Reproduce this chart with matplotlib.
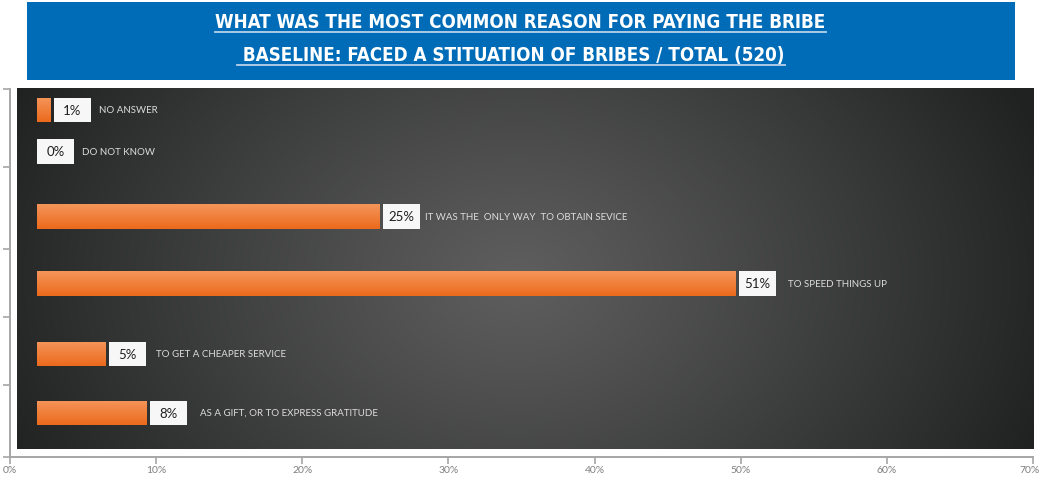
import numpy as np
import matplotlib
matplotlib.use("Agg")
import matplotlib.pyplot as plt
import matplotlib.transforms as mtransforms
from matplotlib.patches import Rectangle
from matplotlib.lines import Line2D
from matplotlib.colors import LinearSegmentedColormap

# ---- data ----
reasons = [
    "NO ANSWER",
    "DO NOT KNOW",
    "IT WAS THE  ONLY WAY  TO OBTAIN SEVICE",
    "TO SPEED THINGS UP",
    "TO GET A CHEAPER SERVICE",
    "AS A GIFT, OR TO EXPRESS GRATITUDE",
]
shares = [1, 0, 25, 51, 5, 8]
value_labels = ["1%", "0%", "25%", "51%", "5%", "8%"]
x_ticks = [0, 10, 20, 30, 40, 50, 60, 70]
x_tick_labels = ["0%", "10%", "20%", "30%", "40%", "50%", "60%", "70%"]
title_lines = [
    "WHAT WAS THE MOST COMMON REASON FOR PAYING THE BRIBE",
    " BASELINE: FACED A STITUATION OF BRIBES / TOTAL (520)",
]

# ---- layout (pixels of a 1041 x 479 canvas) ----
W, H = 1041, 479
DPI = 100
row_centers = [110, 151.5, 216.5, 283.7, 354, 413]   # vertical row positions in the panel
bar_h = 24.5
label_gap = [8, 8, 5, 12, 10, 13]
box_w = 37
box_gap = 3

fig = plt.figure(figsize=(W / DPI, H / DPI), dpi=DPI)
fig.patch.set_facecolor("white")


def fx(px):
    return px / W


def fy(py):
    return 1 - py / H


# ---- title banner ----
fig.patches.append(Rectangle((fx(27), fy(80)), fx(1015) - fx(27), fy(2) - fy(80),
                             transform=fig.transFigure, facecolor="#006cb7",
                             edgecolor="none", zorder=0))
title_font = dict(family="DejaVu Sans", fontstretch="condensed", fontweight="bold",
                  color="white", fontsize=13.5)
t1 = fig.text(fx(520.5), fy(22.5), title_lines[0], ha="center", va="center", **title_font)
t2 = fig.text(fx(511), fy(55), title_lines[1], ha="center", va="center", **title_font)

# ---- outer axis frame with ticks ----
ax_out = fig.add_axes([fx(10), fy(457), fx(1033) - fx(10), fy(89) - fy(457)])
ax_out.set_xlim(0, 70)
ax_out.set_ylim(0, 368)
ax_out.set_xticks(x_ticks)
ax_out.set_xticklabels(x_tick_labels, fontsize=7.5, color="#7f7f7f", family="Lato")
ax_out.set_yticks([0, 72, 140, 208, 290, 368])
ax_out.set_yticklabels([])
for s in ["top", "right"]:
    ax_out.spines[s].set_visible(False)
for s in ["left", "bottom"]:
    ax_out.spines[s].set_color("#a6a6a6")
    ax_out.spines[s].set_linewidth(1.4)
ax_out.tick_params(axis="both", direction="out", length=5, width=1.2, color="#a6a6a6")
ax_out.tick_params(axis="x", pad=1.5)
ax_out.set_facecolor("none")
# keep the last tick label inside the canvas
last = ax_out.get_xticklabels()[-1]
last.set_transform(last.get_transform() +
                   mtransforms.ScaledTranslation(-3 / DPI, 0, fig.dpi_scale_trans))

# ---- inner dark panel ----
px_per_unit = 13.7
x_left_px, x_right_px, zero_px = 17, 1034, 37
ax = fig.add_axes([fx(x_left_px), fy(449), fx(x_right_px) - fx(x_left_px), fy(88) - fy(449)])
ax.set_xlim(-(zero_px - x_left_px) / px_per_unit, (x_right_px - zero_px) / px_per_unit)
ax.set_ylim(449, 88)
ax.axis("off")

# radial gray gradient background
ny, nx = 361, 1017
yy, xx = np.mgrid[0:ny, 0:nx]
d = np.sqrt(((xx - 500) / 560.0) ** 2 + ((yy - 190) / 420.0) ** 2)
d = np.clip(d, 0, 1)
c_in = np.array([0x5d, 0x5e, 0x5d]) / 255
c_out = np.array([0x20, 0x21, 0x21]) / 255
img = c_in[None, None, :] * (1 - d[..., None] ** 1.1) + c_out[None, None, :] * d[..., None] ** 1.1
ax.imshow(img, extent=[0, 1, 0, 1], transform=ax.transAxes, aspect="auto", zorder=0)

orange = LinearSegmentedColormap.from_list("orange", ["#f5955a", "#ec6a1c"])
grad = np.linspace(0, 1, 64)[:, None]

xpx = (ax.get_xlim()[1] - ax.get_xlim()[0]) / (x_right_px - x_left_px)  # data units per px

bars = ax.barh(row_centers, shares, height=bar_h, left=0, color="#f07a30",
               edgecolor="none", zorder=2)
for bar, v, yc in zip(bars, shares, row_centers):
    if v <= 0:
        continue
    im = ax.imshow(grad, cmap=orange, aspect="auto", zorder=3,
                   extent=[0, v, yc + bar_h / 2, yc - bar_h / 2])
    im.set_clip_path(bar)

for v, lab, name, yc, g in zip(shares, value_labels, reasons, row_centers, label_gap):
    bx = v + (box_gap * xpx if v > 0 else 0)
    ax.add_patch(Rectangle((bx, yc - bar_h / 2), box_w * xpx, bar_h,
                           facecolor="#f6f7f6", edgecolor="none", zorder=4))
    ax.text(bx + box_w * xpx / 2, yc + 0.5, lab, ha="center", va="center",
            fontsize=9.5, color="#1e1e1e", family="Lato", zorder=5)
    ax.text(bx + (box_w + g) * xpx, yc + 0.5, name, ha="left", va="center",
            fontsize=7, color="#dcdcdc", family="Lato", zorder=5)

# ---- underline the title lines ----
fig.canvas.draw()
renderer = fig.canvas.get_renderer()
for t, uy in [(t1, 32), (t2, 64.5)]:
    bb = t.get_window_extent(renderer)
    fig.lines.append(Line2D([bb.x0 / W, bb.x1 / W], [fy(uy), fy(uy)],
                            transform=fig.transFigure, color="#b9d3ea", linewidth=1.3))

fig.savefig("out.png", dpi=DPI)
